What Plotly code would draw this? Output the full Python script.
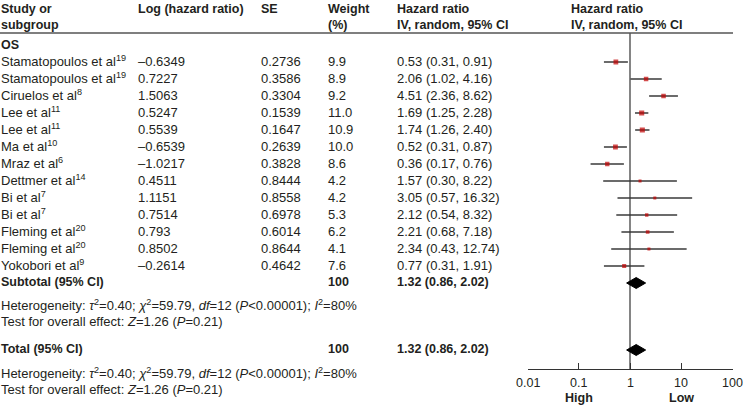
import math
import plotly.graph_objects as go

studies = ["Stamatopoulos et al<sup>19</sup>", "Stamatopoulos et al<sup>19</sup>", "Ciruelos et al<sup>8</sup>",
           "Lee et al<sup>11</sup>", "Lee et al<sup>11</sup>", "Ma et al<sup>10</sup>", "Mraz et al<sup>6</sup>",
           "Dettmer et al<sup>14</sup>", "Bi et al<sup>7</sup>", "Bi et al<sup>7</sup>", "Fleming et al<sup>20</sup>",
           "Fleming et al<sup>20</sup>", "Yokobori et al<sup>9</sup>"]
log_hr = ["\u20130.6349", "0.7227", "1.5063", "0.5247", "0.5539", "\u20130.6539", "\u20131.0217",
          "0.4511", "1.1151", "0.7514", "0.793", "0.8502", "\u20130.2614"]
se = ["0.2736", "0.3586", "0.3304", "0.1539", "0.1647", "0.2639", "0.3828",
      "0.8444", "0.8558", "0.6978", "0.6014", "0.8644", "0.4642"]
weight = [9.9, 8.9, 9.2, 11.0, 10.9, 10.0, 8.6, 4.2, 4.2, 5.3, 6.2, 4.1, 7.6]
hr = [0.53, 2.06, 4.51, 1.69, 1.74, 0.52, 0.36, 1.57, 3.05, 2.12, 2.21, 2.34, 0.77]
lo = [0.31, 1.02, 2.36, 1.25, 1.26, 0.31, 0.17, 0.30, 0.57, 0.54, 0.68, 0.43, 0.31]
hi = [0.91, 4.16, 8.62, 2.28, 2.40, 0.87, 0.76, 8.22, 16.32, 8.32, 7.18, 12.74, 1.91]
pooled = (1.32, 0.86, 2.02)
tick_vals = [0.01, 0.1, 1, 10, 100]
tick_text = ["0.01", "0.1", "1", "10", "100"]

W, H = 743, 407
FONT = "Liberation Sans, Arial, sans-serif"
TXT = "#231f20"
FS = 13
FSB = 12.5

# layout (pixel rows)
row0, dy = 62, 17
rows = [row0 + dy * i for i in range(len(studies))]
y_os = 45
y_sub = rows[-1] + dy
y_het1, y_test1 = 305, 321
y_tot = 350
y_het2, y_test2 = 373, 389
y_axis = 369
y_ticklab = 383
y_hl = 398
y_head_line = 33

col_x = [0, 137, 260, 327, 396, 570]

fig = go.Figure()

def ann(x, y, text, bold=False, size=None, xref="paper", xanchor="left"):
    if bold:
        text = "<b>" + text + "</b>"
    if size is None:
        size = FSB if bold else FS
    fig.add_annotation(x=x / W if xref == "paper" else x, y=y, xref=xref, yref="y", text=text,
                       showarrow=False, xanchor=xanchor, yanchor="middle", borderpad=0,
                       font=dict(family=FONT, size=size, color=TXT))

# headers
ann(col_x[0], 9, "Study or", bold=True)
ann(col_x[0], 25, "subgroup", bold=True)
ann(col_x[1], 9, "Log (hazard ratio)", bold=True)
ann(col_x[2], 9, "SE", bold=True)
ann(col_x[3], 9, "Weight", bold=True)
ann(col_x[3], 25, "(%)", bold=True)
ann(col_x[4], 9, "Hazard ratio", bold=True)
ann(col_x[4], 25, "IV, random, 95% CI", bold=True)
ann(col_x[5], 9, "Hazard ratio", bold=True)
ann(col_x[5], 25, "IV, random, 95% CI", bold=True)

fig.add_shape(type="line", xref="paper", yref="y", x0=0, x1=733 / W, y0=y_head_line, y1=y_head_line,
              line=dict(color="#555", width=1.5))

ann(col_x[0], y_os, "OS", bold=True)
for i, s in enumerate(studies):
    y = rows[i] - 1
    ann(col_x[0], y, s)
    ann(col_x[1], y, log_hr[i])
    ann(col_x[2], y, se[i])
    ann(col_x[3], y, f"{weight[i]:.1f}")
    ann(col_x[4], y, f"{hr[i]:.2f} ({lo[i]:.2f}, {hi[i]:.2f})")

het = ("Heterogeneity: <i>\u03c4</i><sup>2</sup>=0.40; <i>\u03c7</i><sup>2</sup>=59.79, <i>df</i>=12 "
       "(<i>P</i>&lt;0.00001); <i>I</i><sup>2</sup>=80%")
test = "Test for overall effect: <i>Z</i>=1.26 (<i>P</i>=0.21)"
pooled_txt = f"{pooled[0]:.2f} ({pooled[1]:.2f}, {pooled[2]:.2f})"

for yl, yh, yt, label in [(y_sub, y_het1, y_test1, "Subtotal (95% CI)"), (y_tot, y_het2, y_test2, "Total (95% CI)")]:
    ann(col_x[0], yl - 1, label, bold=True)
    ann(col_x[3], yl - 1, "100", bold=True)
    ann(col_x[4], yl - 1, pooled_txt, bold=True)
    ann(col_x[0], yh, het)
    ann(col_x[0], yt, test)

# CI lines
for i in range(len(studies)):
    fig.add_trace(go.Scatter(x=[lo[i], hi[i]], y=[rows[i], rows[i]], mode="lines",
                             line=dict(color="#3a3a3a", width=1.3), hoverinfo="skip", showlegend=False))
# point estimates
fig.add_trace(go.Scatter(x=hr, y=rows, mode="markers",
                         marker=dict(symbol="square", color="#c00000", size=[1.8 + 0.3 * w for w in weight],
                                     line=dict(width=0)),
                         hoverinfo="skip", showlegend=False))

# null line
fig.add_trace(go.Scatter(x=[1, 1], y=[y_head_line, y_axis], mode="lines",
                         line=dict(color="#333", width=1.2), hoverinfo="skip", showlegend=False))

# diamonds
for yd in [y_sub, y_tot]:
    est, l, h = pooled
    fig.add_trace(go.Scatter(x=[l, est, h, est, l], y=[yd, yd - 5.5, yd, yd + 5.5, yd], mode="lines",
                             fill="toself", fillcolor="#000", line=dict(color="#000", width=1),
                             hoverinfo="skip", showlegend=False))

# tick labels (annotations so the edge label is not dropped)
for tv, tt in zip(tick_vals, tick_text):
    fig.add_annotation(x=math.log10(tv), y=y_ticklab, xref="x", yref="y", text=tt, showarrow=False,
                       xanchor="center", yanchor="middle", borderpad=0,
                       font=dict(family=FONT, size=12.5, color=TXT))

# High / Low labels
fig.add_annotation(x=-1, y=y_hl, xref="x", yref="y", text="<b>High</b>", showarrow=False,
                   xanchor="center", yanchor="middle", borderpad=0, font=dict(family=FONT, size=FSB, color=TXT))
fig.add_annotation(x=1, y=y_hl, xref="x", yref="y", text="<b>Low</b>", showarrow=False,
                   xanchor="center", yanchor="middle", borderpad=0, font=dict(family=FONT, size=FSB, color=TXT))

fig.update_layout(
    template="none",
    width=W, height=H, margin=dict(l=0, r=0, t=0, b=0, pad=0, autoexpand=False),
    paper_bgcolor="white", plot_bgcolor="white",
    xaxis=dict(type="log", range=[-2, 2], domain=[527.5 / W, 732.5 / W], anchor="free",
               position=(H - y_axis) / H, showline=True, linecolor="#333", linewidth=1.3,
               ticks="inside", ticklen=6, tickwidth=1.3, tickcolor="#333", automargin=False,
               tickvals=tick_vals, showticklabels=False, showgrid=False, zeroline=False),
    yaxis=dict(range=[H, 0], domain=[0, 1], visible=False, showgrid=False, zeroline=False, automargin=False),
    showlegend=False,
)

fig.write_html("out.html", config={"displayModeBar": False},
               post_script="document.body.style.margin='0';document.body.style.overflow='hidden';")
